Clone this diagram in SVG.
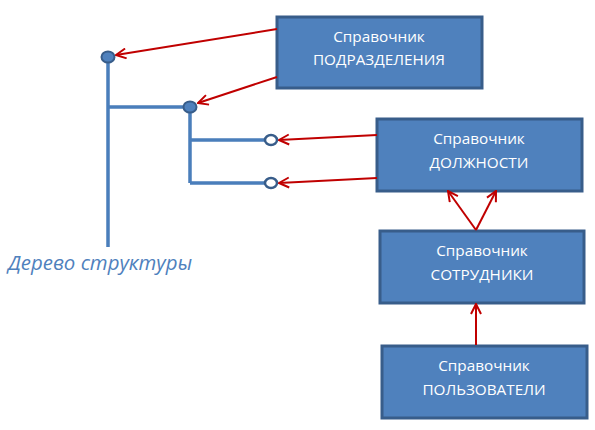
<svg xmlns="http://www.w3.org/2000/svg" width="595" height="430" viewBox="0 0 595 430">
<style>
.box{fill:#4f81bd;stroke:#385d8a;stroke-width:3}
.t{fill:#fff;font-family:"Open Sans","Liberation Sans",sans-serif;font-size:15.3px;text-anchor:middle}
.tree{stroke:#4a7ebb;stroke-width:3.5;fill:none}
.dot{fill:#4f81bd;stroke:#385d8a;stroke-width:2}
.odot{fill:#fff;stroke:#385d8a;stroke-width:2.5}
.c{stroke:#c00000;stroke-width:2;fill:none;marker-end:url(#ah)}
</style>
<defs>
<marker id="ah" viewBox="0 0 12 12" refX="11" refY="6" markerWidth="12" markerHeight="12" markerUnits="userSpaceOnUse" orient="auto">
<path d="M1,1 L11,6 L1,11" fill="none" stroke="#c00000" stroke-width="2"/>
</marker>
</defs>
<g id="tree">
<path class="tree" d="M108,57 V247 M108,107 H190 M190,107 V183 M190,140 H270 M190,183 H270"/>
<ellipse class="dot" cx="108" cy="57" rx="6.5" ry="5.5"/>
<ellipse class="dot" cx="190" cy="107" rx="6.5" ry="5.5"/>
<ellipse class="odot" cx="271" cy="140" rx="6" ry="5"/>
<ellipse class="odot" cx="271" cy="183" rx="6" ry="5"/>
<text x="8" y="270" font-family="'Open Sans','Liberation Sans',sans-serif" font-style="italic" font-size="20.4" fill="#4f81bd">Дерево структуры</text>
</g>
<g id="podr">
<rect class="box" x="277" y="17" width="205" height="71"/>
<text class="t" x="379" y="42">Справочник</text>
<text class="t" x="379" y="65">ПОДРАЗДЕЛЕНИЯ</text>
</g>
<g id="dolzh">
<rect class="box" x="377" y="119" width="205" height="72"/>
<text class="t" x="479" y="144">Справочник</text>
<text class="t" x="479" y="168">ДОЛЖНОСТИ</text>
</g>
<g id="sotr">
<rect class="box" x="380" y="231" width="204" height="72"/>
<text class="t" x="482" y="256">Справочник</text>
<text class="t" x="482" y="280">СОТРУДНИКИ</text>
</g>
<g id="polz">
<rect class="box" x="382" y="346" width="205" height="72"/>
<text class="t" x="484" y="371">Справочник</text>
<text class="t" x="484" y="395">ПОЛЬЗОВАТЕЛИ</text>
</g>
<g id="connectors">
<line class="c" x1="277" y1="29" x2="116" y2="55"/>
<line class="c" x1="277" y1="77" x2="198" y2="103"/>
<line class="c" x1="377" y1="135" x2="279" y2="140"/>
<line class="c" x1="377" y1="178" x2="279" y2="183"/>
<line class="c" x1="476" y1="230" x2="448" y2="191"/>
<line class="c" x1="476" y1="230" x2="496" y2="191"/>
<line class="c" x1="476" y1="345" x2="476" y2="304"/>
</g>
</svg>
